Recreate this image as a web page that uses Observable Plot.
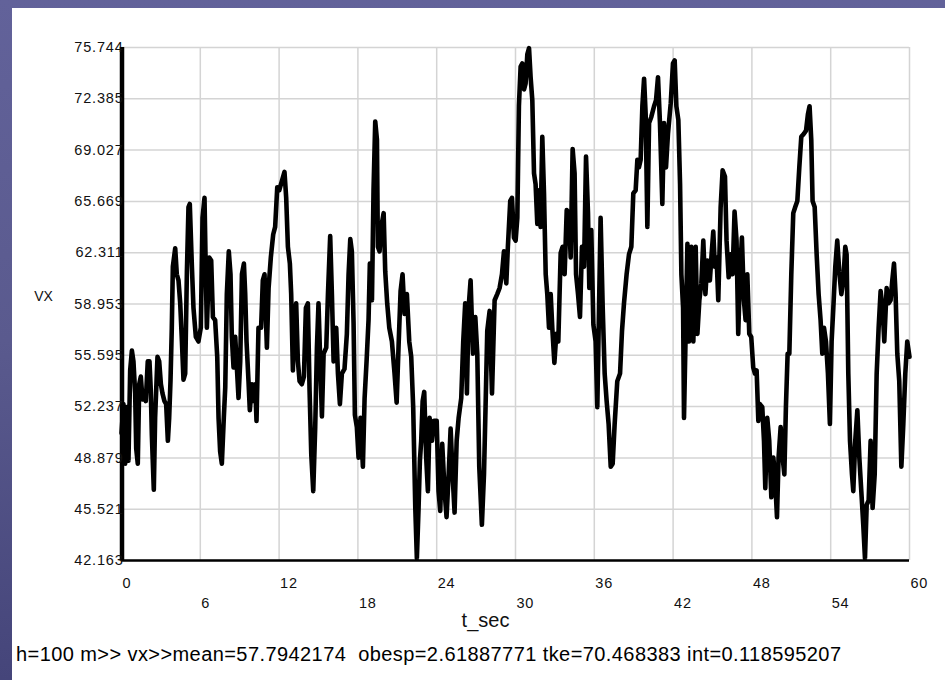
<!DOCTYPE html>
<html>
<head>
<meta charset="utf-8">
<script src="https://cdn.jsdelivr.net/npm/d3@7"></script>
<script src="https://cdn.jsdelivr.net/npm/@observablehq/plot@0.6"></script>
<style>
  html, body { margin: 0; padding: 0; }
  body { width: 945px; height: 680px; overflow: hidden; position: relative;
         background: linear-gradient(180deg, #62629a 0%, #5a5a8e 50%, #45457a 100%); }
  #panel { position: absolute; left: 12px; top: 8px; right: 0; bottom: 0; background: #ffffff; }
  #chart { position: absolute; left: 0; top: 0; }
  #caption { position: absolute; left: 16px; top: 644px; font-family: "Liberation Sans", Arial, sans-serif;
             font-size: 20px; letter-spacing: 0.42px; line-height: 20px; color: #000; white-space: pre; }
  g[aria-label="y-axis tick label"] text, g[aria-label="x-axis tick label"] text { letter-spacing: 0.8px; }
</style>
</head>
<body>
<div id="panel"></div>
<div id="chart"></div>
<div id="caption"></div>
<script>
const yTicks = [42.163, 45.521, 48.879, 52.237, 55.595, 58.953, 62.311, 65.669, 69.027, 72.385, 75.744];
const yTickLabels = ["42.163", "45.521", "48.879", "52.237", "55.595", "58.953", "62.311", "65.669", "69.027", "72.385", "75.744"];
const xTicksRow1 = [0, 12, 24, 36, 48, 60];
const xTicksRow2 = [6, 18, 30, 42, 54];
const xGrid = [0, 6, 12, 18, 24, 30, 36, 42, 48, 54, 60];
const xLabel = "t_sec";
const yLabel = "VX";
const captionText = "h=100 m>> vx>>mean=57.7942174  obesp=2.61887771 tke=70.468383 int=0.118595207";

const tSec = [0.0,0.15,0.28,0.41,0.53,0.66,0.79,0.91,1.04,1.12,1.24,1.35,1.47,1.60,1.75,1.85,2.0,2.13,2.23,2.31,2.46,2.56,2.74,2.87,3.0,3.12,3.27,3.40,3.53,3.63,3.73,3.83,3.91,4.09,4.21,4.34,4.47,4.60,4.72,4.85,4.98,5.10,5.20,5.36,5.48,5.66,5.86,6.04,6.17,6.32,6.42,6.50,6.68,6.83,6.96,7.13,7.29,7.39,7.51,7.64,7.79,7.90,8.02,8.17,8.30,8.40,8.53,8.66,8.81,8.91,9.04,9.17,9.32,9.42,9.52,9.67,9.77,9.93,10.05,10.18,10.28,10.43,10.63,10.76,10.89,11.07,11.2,11.37,11.55,11.70,11.86,12.01,12.21,12.41,12.54,12.67,12.82,12.92,13.05,13.18,13.30,13.43,13.56,13.73,13.89,14.04,14.19,14.32,14.45,14.60,14.75,14.88,15.0,15.16,15.26,15.39,15.59,15.72,15.89,16.02,16.15,16.35,16.48,16.63,16.78,16.98,17.16,17.29,17.42,17.54,17.67,17.77,17.92,18.05,18.20,18.38,18.51,18.66,18.81,18.91,19.07,19.19,19.32,19.45,19.52,19.65,19.78,19.96,20.08,20.23,20.39,20.59,20.79,20.95,21.10,21.25,21.40,21.55,21.73,21.91,22.06,22.21,22.37,22.49,22.62,22.72,22.82,22.93,23.05,23.20,23.33,23.46,23.64,23.79,24.0,24.14,24.27,24.42,24.60,24.75,24.91,25.06,25.21,25.36,25.52,25.67,25.87,26.02,26.17,26.30,26.43,26.58,26.76,26.94,27.09,27.24,27.44,27.60,27.72,27.85,28.03,28.21,28.41,28.61,28.79,28.97,29.12,29.30,29.42,29.60,29.73,29.88,30.01,30.14,30.26,30.39,30.52,30.65,30.77,30.90,31.03,31.15,31.28,31.41,31.53,31.66,31.79,31.91,32.04,32.17,32.30,32.42,32.55,32.68,32.80,32.96,33.11,33.26,33.44,33.59,33.74,33.90,34.07,34.20,34.35,34.50,34.61,34.76,34.91,35.06,35.22,35.37,35.52,35.62,35.77,35.93,36.10,36.23,36.36,36.48,36.64,36.79,36.94,37.09,37.25,37.40,37.55,37.75,37.96,38.11,38.26,38.46,38.64,38.82,38.97,39.15,39.28,39.40,39.53,39.66,39.79,39.91,40.04,40.17,40.34,40.55,40.70,40.85,41.00,41.18,41.31,41.46,41.61,41.82,41.99,42.12,42.25,42.40,42.53,42.63,42.76,42.83,42.96,43.09,43.21,43.39,43.54,43.72,43.85,44.0,44.15,44.30,44.46,44.61,44.80,44.93,45.06,45.18,45.31,45.44,45.62,45.77,45.95,46.07,46.23,46.38,46.53,46.68,46.83,46.96,47.09,47.24,47.39,47.52,47.65,47.80,47.95,48.10,48.23,48.36,48.49,48.61,48.79,48.92,49.02,49.17,49.32,49.48,49.63,49.75,49.91,50.03,50.19,50.34,50.47,50.59,50.72,50.85,51.00,51.15,51.30,51.46,51.61,51.76,51.96,52.12,52.27,52.39,52.52,52.62,52.78,52.93,53.08,53.23,53.36,53.49,53.64,53.79,53.94,54.07,54.20,54.35,54.50,54.65,54.81,54.96,55.11,55.21,55.34,55.47,55.62,55.72,55.87,56.03,56.18,56.33,56.48,56.61,56.74,56.89,57.04,57.19,57.35,57.50,57.65,57.80,57.95,58.08,58.26,58.41,58.56,58.69,58.82,58.94,59.07,59.22,59.38,59.53,59.68,59.83,60.0];

const vx = [50.5,52.4,48.5,52.2,48.7,54.6,55.9,55.2,53.1,49.5,48.5,53.7,54.2,52.7,53.1,52.6,55.2,55.2,53.3,50.4,46.8,51.5,55.5,55.2,53.7,53.1,52.6,52.4,50.0,51.5,53.9,57.4,61.4,62.6,60.9,60.5,59.0,56.5,54.0,54.4,61.1,65.3,65.5,61.4,58.7,56.8,56.5,57.4,64.6,65.9,60.9,57.4,62.0,61.8,58.1,57.9,55.5,51.5,49.3,48.5,51.5,53.5,59.6,62.4,60.9,56.8,54.8,56.8,54.4,52.8,55.2,60.9,61.6,59.6,56.5,53.9,52.0,53.7,52.6,53.7,51.3,57.4,57.4,60.5,60.9,56.1,60.0,62.0,63.5,64.0,66.6,66.4,67.0,67.6,65.9,62.7,61.6,59.6,54.6,58.1,59.0,55.2,53.9,53.7,54.2,58.7,59.0,53.3,49.1,46.7,50.9,56.1,59.0,54.4,51.6,55.7,56.1,59.6,63.4,59.6,55.2,57.4,54.4,52.4,54.4,54.7,57.0,60.9,63.2,62.4,57.7,51.7,50.9,48.9,51.5,48.3,52.8,55.2,57.9,61.6,59.2,66.4,70.9,69.7,62.7,62.4,64.0,64.9,61.1,59.0,57.4,56.5,54.4,52.5,56.3,59.8,60.9,58.3,59.6,56.5,55.5,52.2,45.6,42.3,45.6,48.7,50.0,52.6,53.2,48.9,46.7,51.5,50.0,51.3,51.3,46.7,45.4,49.8,46.7,45.0,47.8,50.8,47.8,45.3,50.0,51.5,52.8,56.5,59.0,53.1,58.7,60.5,55.7,58.1,55.7,48.3,44.5,47.8,52.2,57.2,58.5,53.1,59.2,59.6,60.0,60.9,62.4,60.3,62.7,65.7,65.9,63.3,63.1,64.6,71.9,74.5,74.7,73.0,73.4,75.3,75.7,73.8,72.3,67.5,66.8,64.2,66.4,64.0,69.9,66.2,60.9,59.6,57.4,59.6,57.4,55.1,57.0,56.5,62.3,62.7,60.9,65.1,64.9,62.0,69.1,67.5,60.9,59.6,58.1,62.7,61.4,68.6,64.9,60.0,63.8,57.6,56.5,52.2,58.7,64.6,58.7,54.4,52.6,51.1,48.3,48.5,51.1,53.9,54.4,57.2,59.0,60.9,62.2,62.7,66.2,66.4,68.4,67.9,68.4,71.9,73.7,71.4,64.0,70.8,71.2,71.9,72.3,73.8,70.8,65.5,70.8,67.9,70.1,72.1,74.7,74.9,71.9,71.0,66.8,60.9,58.7,51.5,57.2,62.9,56.5,62.7,56.5,62.7,57.0,59.2,60.3,63.1,59.6,61.8,60.5,62.2,63.7,61.4,62.0,59.2,65.3,67.7,67.3,63.1,60.7,62.2,60.9,65.0,63.1,57.0,60.9,63.3,59.2,57.9,60.9,57.0,56.8,54.8,54.4,54.6,51.3,52.4,52.2,50.0,46.9,51.5,50.0,46.3,48.9,47.8,45.0,48.9,50.9,48.9,47.8,52.2,55.7,55.7,60.9,64.9,65.3,65.7,67.9,69.9,70.1,70.3,71.4,71.9,69.7,65.7,65.3,62.2,59.6,57.9,55.7,57.4,56.5,54.4,51.1,56.5,58.7,61.4,63.1,61.1,59.6,60.5,62.7,62.2,54.4,50.0,47.8,46.7,50.0,52.0,48.9,46.7,44.5,42.3,45.8,46.1,50.0,45.6,47.8,54.4,57.4,59.8,58.7,56.5,60.0,59.0,59.2,60.5,61.6,59.6,55.7,53.9,48.3,51.1,54.4,56.5,55.5];

const points = tSec.map((t, i) => ({t, v: vx[i]}));
const labelMap = new Map(yTicks.map((d, i) => [d, yTickLabels[i]]));
const font = "'Liberation Sans', Arial, sans-serif";

const chart = Plot.plot({
  width: 945,
  height: 636,
  marginLeft: 121,
  marginRight: 36,
  marginTop: 47,
  marginBottom: 76,
  style: {background: "transparent", fontFamily: font, color: "#000"},
  x: {domain: [0, 60], label: null},
  y: {domain: [42.163, 75.744], label: null},
  marks: [
    Plot.gridX(xGrid, {stroke: "#d4d4d4", strokeOpacity: 1, strokeWidth: 1.5}),
    Plot.gridY(yTicks, {stroke: "#d4d4d4", strokeOpacity: 1, strokeWidth: 1.5}),
    Plot.line(points, {x: "t", y: "v", stroke: "#000", strokeWidth: 4.6, strokeLinejoin: "round", strokeLinecap: "round"}),
    Plot.ruleX([0], {stroke: "#000", strokeWidth: 4.5, dx: 0.5}),
    Plot.ruleY([42.163], {stroke: "#000", strokeWidth: 2.5}),
    Plot.axisY(yTicks, {tickSize: 0, tickPadding: -2, tickFormat: d => labelMap.get(d), fontSize: 14.5, label: null, fill: "#111"}),
    Plot.axisX(xTicksRow1, {tickSize: 0, tickPadding: 17, textAnchor: "start", dx: 1, tickFormat: d => String(d), fontSize: 14.5, label: null, fill: "#111"}),
    Plot.axisX(xTicksRow2, {tickSize: 0, tickPadding: 37, textAnchor: "start", dx: 1, tickFormat: d => String(d), fontSize: 14.5, label: null, fill: "#111"}),
    Plot.text([yLabel], {text: d => d, frameAnchor: "left", dx: -78, dy: -7, fontSize: 14, textAnchor: "middle", fill: "#111"}),
    Plot.text([xLabel], {text: d => d, frameAnchor: "bottom", dx: -30, dy: 66, fontSize: 20, textAnchor: "middle", fill: "#111"})
  ]
});
document.getElementById("chart").appendChild(chart);
document.getElementById("caption").textContent = captionText;
</script>
</body>
</html>
